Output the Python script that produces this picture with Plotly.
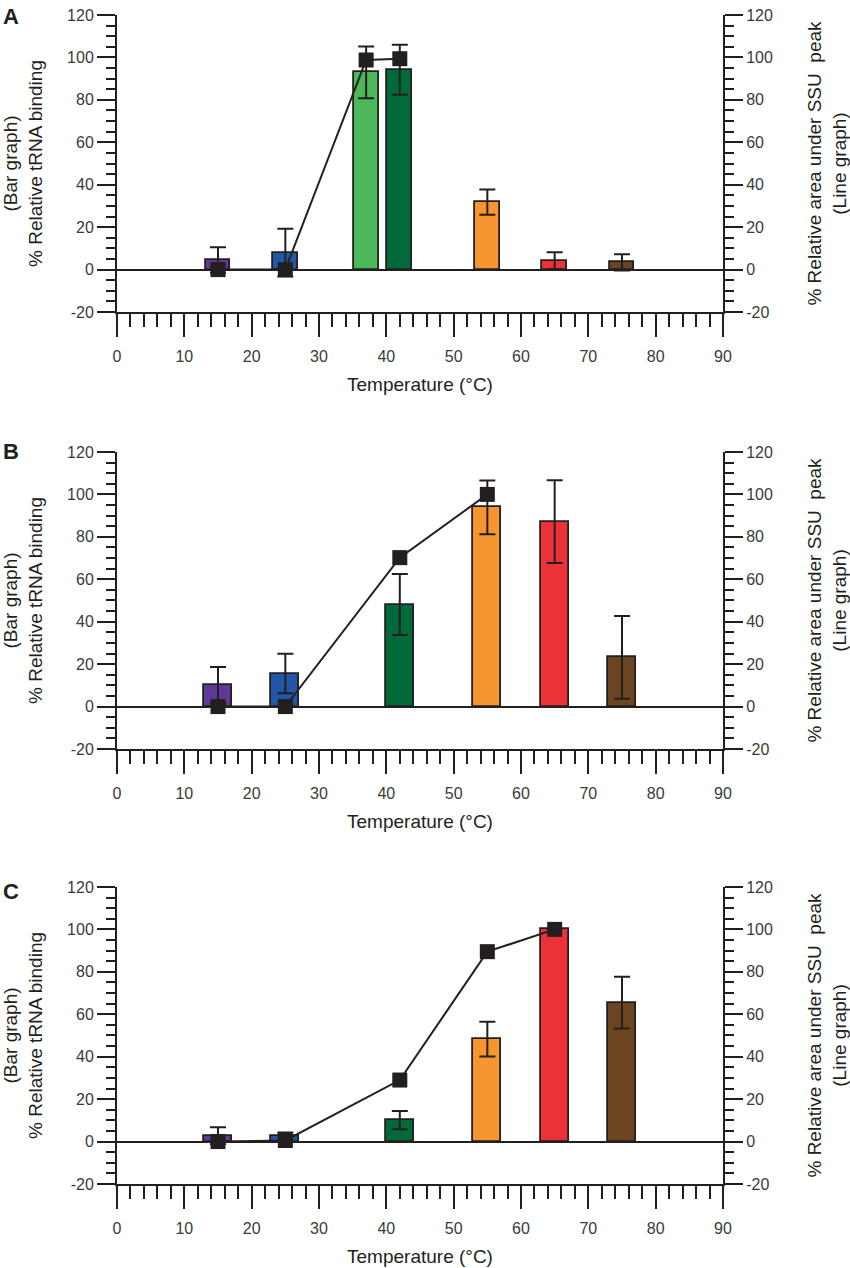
import plotly.graph_objects as go
from plotly.subplots import make_subplots

# bar colours per temperature
PURPLE = "#5e3a96"
BLUE = "#2257a8"
LGREEN = "#4cb85a"
DGREEN = "#006a3a"
ORANGE = "#f7962e"
RED = "#ec3237"
BROWN = "#6b4520"

# Panel A
temp_a = [15, 25, 37, 42, 55, 65, 75]
bind_a = [4.5, 8, 93, 94.2, 31.8, 4.2, 3.4]
err_a = [6, 11.2, 12.2, 11.8, 5.9, 4, 3.8]
col_a = [PURPLE, BLUE, LGREEN, DGREEN, ORANGE, RED, BROWN]
line_temp_a = [15, 25, 37, 42]
ssu_a = [0, 0, 98.8, 99.4]

# Panel B
temp_b = [15, 25, 42, 55, 65, 75]
bind_b = [10.1, 15.6, 48.1, 93.9, 87.2, 23.2]
err_b = [8.5, 9.3, 14.4, 12.7, 19.5, 19.5]
col_b = [PURPLE, BLUE, DGREEN, ORANGE, RED, BROWN]
line_temp_b = [15, 25, 42, 55]
ssu_b = [0, 0, 70.2, 100]

# Panel C
temp_c = [15, 25, 42, 55, 65, 75]
bind_c = [2.8, 2.8, 10.1, 48.3, 100.2, 65.5]
err_c = [4, 1.5, 4.3, 8.2, 0, 12.2]
col_c = [PURPLE, BLUE, DGREEN, ORANGE, RED, BROWN]
line_temp_c = [15, 25, 42, 55, 65]
ssu_c = [0, 0.5, 29, 89.5, 100]

# axis ticks
y_ticks = [-20, 0, 20, 40, 60, 80, 100, 120]
y_labels = ["-20", "0", "20", "40", "60", "80", "100", "120"]

panels = [
    ("A", temp_a, bind_a, err_a, col_a, line_temp_a, ssu_a, 3.7),
    ("B", temp_b, bind_b, err_b, col_b, line_temp_b, ssu_b, 4.2),
    ("C", temp_c, bind_c, err_c, col_c, line_temp_c, ssu_c, 4.2),
]

INK = "#231f20"
TXT = "#3a3a3a"
FONT = "Liberation Sans, Arial, sans-serif"

fig = make_subplots(rows=3, cols=1, specs=[[{"secondary_y": True}]] * 3)

for i, (lab, t, b, e, c, lt, s, w) in enumerate(panels, start=1):
    fig.add_trace(go.Bar(
        x=t, y=b, width=w,
        marker=dict(color=c, line=dict(color=INK, width=1.8)),
        error_y=dict(type="data", array=e, color=INK, thickness=2, width=8),
        showlegend=False), row=i, col=1, secondary_y=False)
    fig.add_trace(go.Scatter(
        x=lt, y=s, mode="lines+markers",
        line=dict(color=INK, width=2),
        marker=dict(symbol="square", size=15, color=INK),
        showlegend=False), row=i, col=1, secondary_y=True)

# domains (plot areas measured in pixels)
doms = [[0.7459, 1.0], [0.3721, 0.6262], [0.0, 0.2541]]
letter_y = [1.011, 0.639, 0.263]

tickfont = dict(family=FONT, size=16, color=TXT)
titlefont = dict(family=FONT, size=19, color=INK)

fig.update_layout(
    width=850, height=1268,
    margin=dict(l=117, r=127, t=15, b=84),
    paper_bgcolor="white", plot_bgcolor="white",
    font=dict(family=FONT, color=TXT),
    bargap=0,
)

for i in range(3):
    xn = "xaxis" if i == 0 else f"xaxis{i + 1}"
    yl = "yaxis" if i == 0 else f"yaxis{2 * i + 1}"
    yr = f"yaxis{2 * i + 2}"
    fig.layout[xn].update(
        domain=[0, 1], range=[0, 90], dtick=10, tick0=0, automargin=False,
        showline=True, linecolor=INK, linewidth=2,
        ticks="outside", ticklen=23, tickwidth=2, tickcolor=INK,
        minor=dict(dtick=2, ticks="outside", ticklen=13, tickwidth=2, tickcolor=INK),
        showgrid=False, zeroline=False, tickfont=tickfont,
        ticklabelstandoff=6,
        title=dict(text="Temperature (°C)", font=titlefont, standoff=13),
    )
    fig.layout[yl].update(
        domain=doms[i], range=[-20, 120], tickvals=y_ticks, ticktext=y_labels,
        automargin=False,
        showline=True, linecolor=INK, linewidth=2,
        ticks="outside", ticklen=18, tickwidth=2, tickcolor=INK,
        minor=dict(dtick=5, tick0=0, ticks="outside", ticklen=9, tickwidth=2, tickcolor=INK),
        showgrid=False, zeroline=True, zerolinecolor=INK, zerolinewidth=2,
        tickfont=tickfont,
        title=dict(text="(Bar graph)<br>% Relative tRNA binding", font=titlefont, standoff=22),
    )
    fig.layout[yr].update(
        domain=doms[i], range=[-20, 120], tickvals=y_ticks, ticktext=y_labels,
        automargin=False,
        showline=True, linecolor=INK, linewidth=2,
        ticks="outside", ticklen=18, tickwidth=2, tickcolor=INK,
        minor=dict(dtick=5, tick0=0, ticks="outside", ticklen=9, tickwidth=2, tickcolor=INK),
        showgrid=False, zeroline=False, tickfont=tickfont,
        title=dict(text="% Relative area under SSU  peak<br>(Line graph)", font=titlefont, standoff=36),
    )
    fig.add_annotation(
        text="<b>" + panels[i][0] + "</b>", xref="paper", yref="paper",
        x=-0.192, y=letter_y[i], xanchor="left", yanchor="top",
        showarrow=False, font=dict(family=FONT, size=22, color=INK),
    )

# drop the default page margin so the figure sits at the window corner
fig.write_html(
    "out.html",
    config={"displayModeBar": False},
    post_script="document.body.style.margin='0';document.body.style.overflow='hidden';",
)
